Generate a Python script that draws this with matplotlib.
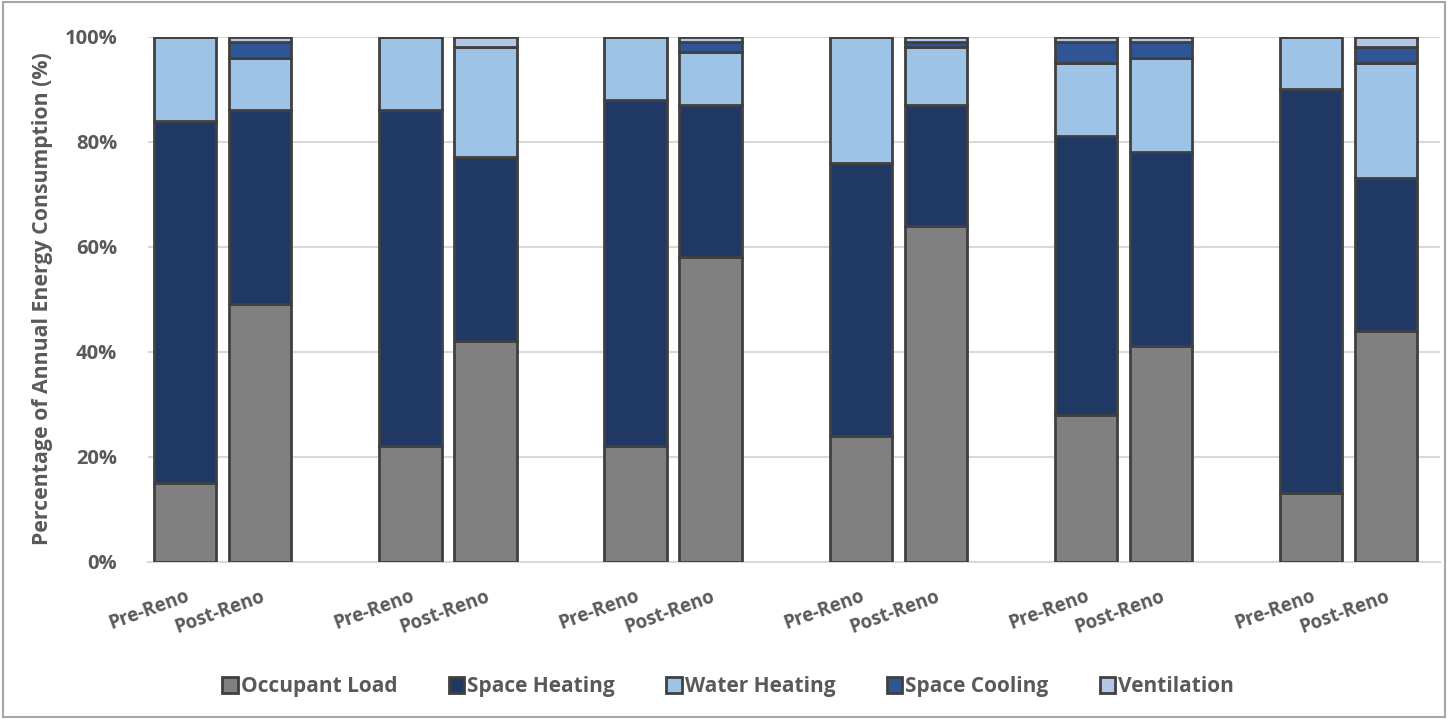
import matplotlib.pyplot as plt
import numpy as np
from matplotlib.patches import Rectangle

# Share of annual energy use (%), one entry per bar: Pre/Post for six houses
bar_labels = ['Pre-Reno', 'Post-Reno'] * 6
occupant_load = [15, 49, 22, 42, 22, 58, 24, 64, 28, 41, 13, 44]
space_heating = [69, 37, 64, 35, 66, 29, 52, 23, 53, 37, 77, 29]
water_heating = [16, 10, 14, 21, 12, 10, 24, 11, 14, 18, 10, 22]
space_cooling = [0, 3, 0, 0, 0, 2, 0, 1, 4, 3, 0, 3]
ventilation = [0, 1, 0, 2, 0, 1, 0, 1, 1, 1, 0, 2]

series = [
    ('Occupant Load', occupant_load, '#808080'),
    ('Space Heating', space_heating, '#203864'),
    ('Water Heating', water_heating, '#9DC3E6'),
    ('Space Cooling', space_cooling, '#2F5597'),
    ('Ventilation', ventilation, '#B4C7E7'),
]

TEXT = '#595959'
FONT = 'Open Sans'

fig = plt.figure(figsize=(14.48, 7.19), dpi=100)
ax = fig.add_axes([0.102, 0.219, 0.8925, 0.730])

# two bars per house, then an empty slot before the next house
x = np.array([3 * (i // 2) + (i % 2) for i in range(len(bar_labels))], dtype=float)
bottom = np.zeros(len(x))
for name, vals, color in series:
    vals = np.array(vals, dtype=float)
    ax.bar(x, vals, 0.83, bottom=bottom, color=color, edgecolor='#404040',
           linewidth=2.0, label=name, zorder=3)
    bottom += vals

ax.set_xlim(-0.5, 16.72)
ax.set_ylim(0, 100)
ax.set_yticks(np.arange(0, 101, 20))
ax.set_yticklabels([f'{v}%' for v in range(0, 101, 20)], fontsize=14.5,
                   fontweight='bold', color=TEXT, family=FONT)
ax.set_xticks(x)
ax.set_xticklabels(bar_labels, rotation=20, ha='right', va='top',
                   rotation_mode='anchor', fontsize=13.5, fontweight='bold',
                   color=TEXT, family=FONT)
ax.tick_params(axis='both', length=0)
ax.tick_params(axis='x', pad=18)
ax.tick_params(axis='y', pad=22)

ax.grid(axis='y', color='#D9D9D9', linewidth=1.5, zorder=0)
for s in ['top', 'right', 'left']:
    ax.spines[s].set_visible(False)
ax.spines['bottom'].set_color('#D9D9D9')
ax.spines['bottom'].set_linewidth(1.5)

ax.set_ylabel('Percentage of Annual Energy Consumption (%)', fontsize=15.3,
              fontweight='bold', color=TEXT, family=FONT, labelpad=8)

leg = fig.legend(loc='center', bbox_to_anchor=(0.503, 0.045), ncol=5,
                 frameon=False, handlelength=0.75, handleheight=0.75,
                 handletextpad=0.15, columnspacing=2.45,
                 prop={'family': FONT, 'weight': 'bold', 'size': 15})
for t in leg.get_texts():
    t.set_color(TEXT)

# outer frame around the whole chart
fig.patches.append(Rectangle((0.002, 0.003), 0.996, 0.994, transform=fig.transFigure,
                             fill=False, edgecolor='#A6A6A6', linewidth=1.5))

fig.savefig('out.png', dpi=100)
